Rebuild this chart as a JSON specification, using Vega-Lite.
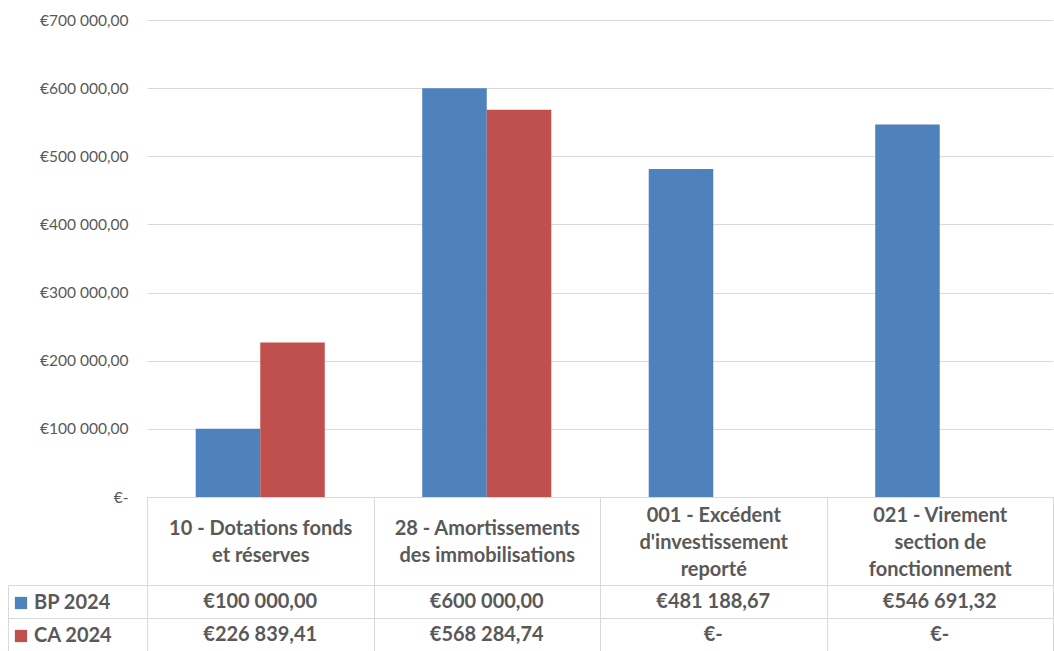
{
  "$schema": "https://vega.github.io/schema/vega-lite/v6.json",
  "width": 906,
  "height": 631,
  "autosize": {"type": "none"},
  "padding": {"left": 147, "top": 20, "right": 1, "bottom": 0},
  "background": "white",
  "config": {
    "locale": {"number": {"decimal": ",", "thousands": "\u00a0", "grouping": [3], "currency": ["€", ""]}},
    "view": {"stroke": null},
    "font": "Lato"
  },
  "data": {
    "values": [
      {"category": "10 - Dotations fonds et réserves", "series": "BP 2024", "value": 100000},
      {"category": "10 - Dotations fonds et réserves", "series": "CA 2024", "value": 226839.41},
      {"category": "28 - Amortissements des immobilisations", "series": "BP 2024", "value": 600000},
      {"category": "28 - Amortissements des immobilisations", "series": "CA 2024", "value": 568284.74},
      {"category": "001 - Excédent d'investissement reporté", "series": "BP 2024", "value": 481188.67},
      {"category": "001 - Excédent d'investissement reporté", "series": "CA 2024", "value": 0},
      {"category": "021 - Virement section de fonctionnement", "series": "BP 2024", "value": 546691.32},
      {"category": "021 - Virement section de fonctionnement", "series": "CA 2024", "value": 0}
    ]
  },
  "encoding": {
    "x": {
      "field": "category",
      "type": "nominal",
      "sort": null,
      "scale": {"paddingInner": 0, "paddingOuter": 0},
      "axis": {
        "orient": "bottom",
        "offset": -154,
        "title": null,
        "domain": true,
        "domainColor": "#d9d9d9",
        "ticks": true,
        "tickBand": "extent",
        "tickSize": 154,
        "tickColor": "#d9d9d9",
        "grid": false,
        "labelExpr": "datum.value == '10 - Dotations fonds et réserves' ? ['10 - Dotations fonds', 'et réserves'] : datum.value == '28 - Amortissements des immobilisations' ? ['28 - Amortissements', 'des immobilisations'] : datum.value == \"001 - Excédent d'investissement reporté\" ? ['001 - Excédent', \"d'investissement\", 'reporté'] : datum.value == '021 - Virement section de fonctionnement' ? ['021 - Virement', 'section de', 'fonctionnement'] : ''",
        "labelBaseline": "middle",
        "labelPadding": {
          "condition": {"test": "datum.value == '10 - Dotations fonds et réserves' || datum.value == '28 - Amortissements des immobilisations'", "value": -122.5},
          "value": -136
        },
        "labelFont": "Lato",
        "labelFontSize": 20,
        "labelFontWeight": "bold",
        "labelColor": "#595959",
        "labelLineHeight": 27,
        "labelAngle": 0,
        "labelOverlap": false,
        "labelLimit": 0,
        "labelFlush": false
      }
    }
  },
  "layer": [
    {
      "mark": {"type": "bar"},
      "encoding": {
        "xOffset": {"field": "series", "type": "nominal", "sort": null, "scale": {"paddingInner": 0, "paddingOuter": 0.755}},
        "y": {
          "field": "value",
          "type": "quantitative",
          "scale": {"domain": [0, 700000], "range": [477, 0], "nice": false},
          "axis": {
            "orient": "left",
            "title": null,
            "values": [0, 100000, 200000, 300000, 400000, 500000, 600000, 700000],
            "format": "$,.2f",
            "labelExpr": "datum.value == 0 ? '€-\u00a0\u00a0\u00a0' : datum.label",
            "domain": false,
            "ticks": false,
            "grid": true,
            "gridColor": "#d9d9d9",
            "labelPadding": 19,
            "labelFont": "Lato",
            "labelFontSize": 15.5,
            "labelColor": "#595959"
          }
        },
        "color": {
          "field": "series",
          "type": "nominal",
          "scale": {"domain": ["BP 2024", "CA 2024"], "range": ["#4F81BD", "#C0504D"]},
          "legend": {
            "orient": "none",
            "legendX": -136,
            "legendY": 573,
            "title": null,
            "direction": "vertical",
            "symbolType": "square",
            "symbolSize": 150,
            "symbolStrokeWidth": 0,
            "labelFont": "Lato",
            "labelFontSize": 20,
            "labelFontWeight": "bold",
            "labelColor": "#595959",
            "labelOffset": 3,
            "rowPadding": 13,
            "padding": 0
          }
        }
      }
    },
    {
      "mark": {"type": "text", "font": "Lato", "fontWeight": "bold", "fontSize": 20, "color": "#595959"},
      "encoding": {
        "y": {
          "field": "series",
          "type": "nominal",
          "sort": null,
          "scale": {"range": [565, 631], "paddingInner": 0, "paddingOuter": 0},
          "axis": {
            "orient": "left",
            "title": null,
            "labels": false,
            "domain": true,
            "domainColor": "#d9d9d9",
            "offset": 139,
            "ticks": true,
            "tickBand": "extent",
            "tickSize": -139,
            "tickColor": "#d9d9d9",
            "grid": true,
            "gridColor": "#d9d9d9"
          }
        },
        "text": {"condition": {"test": "datum.value == 0", "value": "€-"}, "field": "value", "type": "quantitative", "format": "$,.2f"}
      }
    }
  ],
  "resolve": {"scale": {"y": "independent"}, "axis": {"y": "independent"}}
}
